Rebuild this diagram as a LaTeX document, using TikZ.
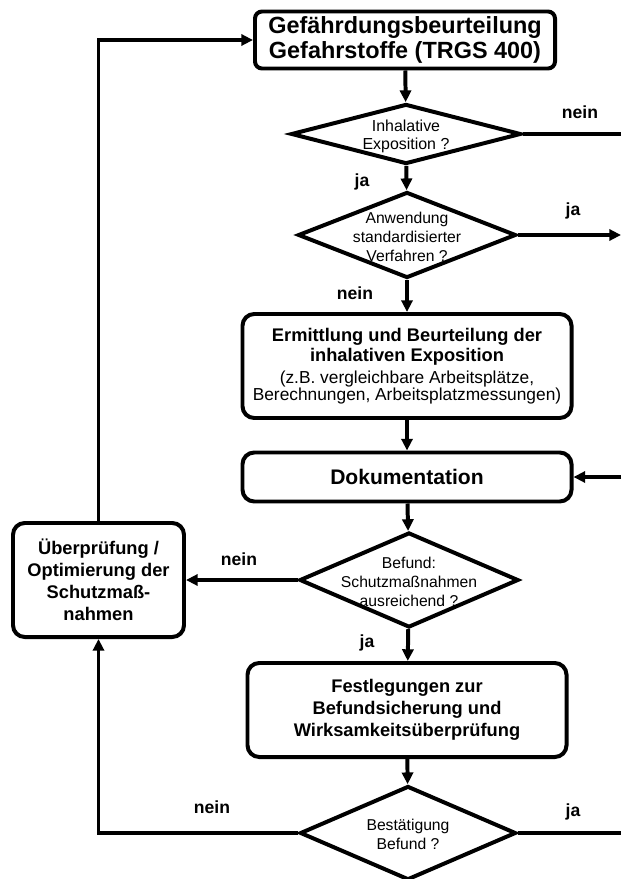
\documentclass[tikz,border=0pt]{standalone}
\usepackage{fontspec}
\setmainfont{Liberation Sans}
\usetikzlibrary{calc, positioning, arrows.meta, shapes.geometric}

\begin{document}
\begin{tikzpicture}[x=0.03cm, y=-0.03cm, line width=3.4pt,
  box/.style={draw, rounded corners=10pt, align=center, inner sep=0pt},
  dia/.style={draw, diamond, inner sep=0pt},
  dtext/.style={align=center, font=\fontsize{13.4}{16.2}\selectfont},
  lab/.style={font=\fontsize{15}{18}\selectfont\bfseries},
  flow/.style={-{Triangle[length=10pt, width=9.5pt]}}]
\useasboundingbox (0,0) rectangle (621,879);
\clip (0,0) rectangle (621,879);
% Boxes
\node[box, rounded corners=6pt, minimum width=9cm, minimum height=1.71cm,
  font=\fontsize{20}{21.5}\selectfont\bfseries] (gbu) at (405,40)
  {Gefährdungsbeurteilung\\Gefahrstoffe (TRGS 400)};
\node[box, minimum width=9.87cm, minimum height=3.12cm,
  font=\fontsize{15.6}{17}\selectfont] (erm) at (407,366)
  {\bfseries Ermittlung und Beurteilung der\\
   \bfseries inhalativen Exposition\\[1.7pt]
   \fontsize{14.8}{17}\selectfont (z.B. vergleichbare Arbeitsplätze,\\[-2.5pt]
   \fontsize{14.8}{17}\selectfont Berechnungen, Arbeitsplatzmessungen)};
\node[box, minimum width=9.87cm, minimum height=1.47cm,
  font=\fontsize{18}{20}\selectfont\bfseries] (dok) at (407,477) {Dokumentation};
\node[box, minimum width=5.13cm, minimum height=3.42cm,
  font=\fontsize{15.6}{18.7}\selectfont\bfseries] (ueb) at (98.5,580)
  {Überprüfung /\\Optimierung der\\Schutzmaß-\\nahmen};
\node[box, minimum width=9.57cm, minimum height=2.82cm,
  font=\fontsize{15.6}{19}\selectfont\bfseries] (fest) at (407,710)
  {Festlegungen zur\\Befundsicherung und\\Wirksamkeitsüberprüfung};
% Decisions
\node[dia, minimum width=6.9cm, minimum height=1.8cm] (inh) at (406,134) {};
\node[dtext, font=\fontsize{13.6}{15.3}\selectfont] at (406,136) {Inhalative\\Exposition ?};
\node[dia, minimum width=6.54cm, minimum height=2.58cm] (anw) at (407,235) {};
\node[dtext] at (407,237) {Anwendung\\standardisierter\\Verfahren ?};
\node[dia, minimum width=6.57cm, minimum height=2.85cm] (bef) at (409,580) {};
\node[dtext] at (409,582) {Befund:\\Schutzmaßnahmen\\ausreichend ?};
\node[dia, minimum width=6.48cm, minimum height=2.82cm] (best) at (408,833) {};
\node[dtext] at (408,834) {Bestätigung\\Befund ?};
% Free ends at the right edge
\coordinate (r1) at (621,134);
\coordinate (r2) at (621,235);
\coordinate (r3) at (621,477);
\coordinate (r4) at (621,833);
% Main flow
\draw[flow] (gbu) -- (inh);
\draw[flow] (inh) -- (anw);
\draw[flow] (anw) -- (erm);
\draw[flow] (erm) -- (dok);
\draw[flow] (dok) -- (bef);
\draw[flow] (bef) -- (fest);
\draw[flow] (fest) -- (best);
% Side branches
\draw (inh.east) -- (r1);
\draw[flow] (anw.east) -- (r2);
\draw[flow] (r3) -- (dok.east);
\draw (best.east) -- (r4);
\draw[flow] (bef.west) -- (ueb.east);
\draw[flow] (best.west) -| (ueb.south);
\draw[flow] (ueb.north) |- (gbu.west);
% Answers
\node[lab] at (580,112) {nein};
\node[lab] at (362,182) {ja};
\node[lab] at (573,211) {ja};
\node[lab] at (355,293) {nein};
\node[lab] at (239,559) {nein};
\node[lab] at (367,643) {ja};
\node[lab] at (212,807) {nein};
\node[lab] at (573,812) {ja};
\end{tikzpicture}
\end{document}
